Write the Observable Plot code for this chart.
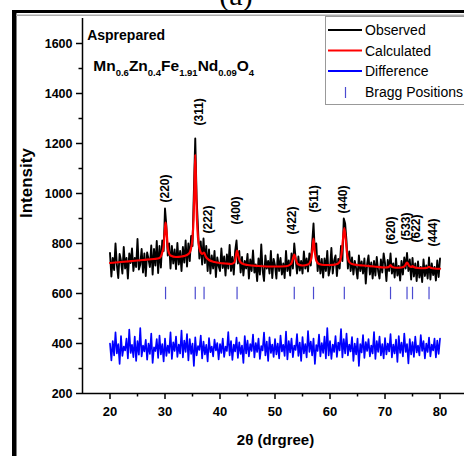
<!DOCTYPE html>
<html><head><meta charset="utf-8">
<script src="https://cdn.jsdelivr.net/npm/d3@7"></script>
<script src="https://cdn.jsdelivr.net/npm/@observablehq/plot@0.6"></script>
<style>
body{margin:0;background:#fff}
#chart{position:relative;width:464px;height:456px;overflow:hidden}
</style>
</head><body><div id="chart"></div>
<script>
// ---- data ----
const scanStart = 20, scanStep = 0.25;
const observed = [
762,668,742,694, 800,714,662,758, 731,680,786,700, 742,660,760,722, 780,690,742,706,
818,696,716,778, 684,760,670,764, 738,706,792,676, 778,712,810,682, 790,704,812,770,
940,870,752,800, 700,790,720,776, 698,802,716,770, 690,786,724,812, 708,800,730,830,
790,1010,1220,980, 860,740,808,716, 820,722,790,690, 776,680,752,700, 770,666,744,710,
690,780,702,748, 672,756,700,794, 690,746,676,770, 812,720,770,684, 746,672,730,700,
758,660,736,690, 772,684,716,650, 740,676,796,692, 650,752,700,730, 680,770,662,738,
712,660,756,690, 742,676,720,662, 770,690,732,672, 760,700,800,740, 680,748,692,730,
680,768,700,740, 688,760,712,800, 880,760,800,690, 750,680,738,664, 740,690,770,672,
700,782,680,732, 752,670,738,700, 790,730,900,880, 810,700,768,690, 744,676,730,700,
660,752,690,728, 680,740,640,718, 752,676,724,660, 730,672,746,690, 660,736,684,760,
720,650,734,690, 760,680,720,664, 740,672,710,652, 730,676,744,700, 762,690,736,656,
742,668,720,650, 728,664,706,646, 736,670,712,660, 744,656,720,674, 706,652,732,666,
740];
const difference = [
400,332,410,352,445,360,398,318,430,350,388,372,420,340,456,362,395,345,428,330,
410,355,462,348,392,368,415,335,400,358,440,322,385,370,418,342,432,356,398,328,
420,350,392,362,445,338,405,370,428,346,396,360,452,344,412,366,438,332,418,358,
400,310,425,352,390,374,432,340,408,356,395,328,422,365,388,348,416,372,402,336,
398,362,420,346,388,370,446,352,410,334,396,368,424,342,405,358,392,322,430,360,
412,348,398,370,436,344,402,366,420,338,390,372,444,352,408,330,425,362,396,346,
418,356,400,340,432,368,395,350,448,336,410,364,420,345,392,374,438,350,404,330,
426,360,398,344,450,366,408,352,420,318,394,370,436,348,402,362,428,340,462,352,
410,338,396,366,430,346,404,372,458,344,418,360,440,352,396,368,426,330,400,356,
420,310,398,364,434,342,406,370,418,348,392,360,446,338,410,366,428,352,398,340,
422,356,400,368,438,344,396,360,416,326,430,362,404,348,440,366,398,320,418,356,
406,346,428,364,392,352,434,370,410,340,400,366,424,348,396,372,420,344,412,358,
420];
const calcAngles = [20,22,24,26,28,29,29.5,29.75,29.9,30.0,30.1,30.2,30.35,30.5,30.75,31,32,33,34,34.5,
34.75,35,35.2,35.35,35.5,35.65,35.8,36,36.25,36.5,36.75,37.1,37.4,38,39,40,41,42,42.6,42.9,
43.1,43.3,43.6,44,45,47,50,52,52.9,53.2,53.5,53.8,54.1,55,56,56.5,56.8,57.0,57.2,57.5,
58,59,60,61,61.75,62.1,62.35,62.6,62.85,63.1,63.5,64,65,66,68,70,70.7,71.0,71.3,72,
73,73.6,74.0,74.4,74.8,75.0,75.2,76,77,77.7,78.0,78.3,79,80];
const calcValues = [722,726,730,734,738,742,764,790,830,862,884,866,830,784,760,752,746,748,754,764,
782,822,900,1020,1155,1020,900,822,782,764,758,764,748,734,726,722,720,718,724,752,
772,752,730,720,714,710,708,709,718,735,756,735,718,712,716,732,775,820,775,732,
718,714,714,716,726,760,815,862,815,760,726,718,714,712,708,704,706,714,706,703,
704,710,724,710,706,710,706,702,701,703,707,703,700,699];
const braggPositions = [30.1,35.5,37.1,43.1,53.5,57.0,62.6,71.0,74.0,75.0,78.0];
const braggLow = 575, braggHigh = 625;
const hklLabels = ["(220)","(311)","(222)","(400)","(422)","(511)","(440)","(620)","(533)","(622)","(444)"];
const hklLabelAngle = [30.0,36.2,37.8,43.0,53.2,57.1,62.4,71.1,73.8,75.6,78.7];
const hklLabelBase = [964,1272,840,876,836,924,920,796,812,804,788];
const yTicks = [200,400,600,800,1000,1200,1400,1600];
const yMinor = [300,500,700,900,1100,1300,1500];
const xTicks = [20,30,40,50,60,70,80];
const xMinor = [25,35,45,55,65,75];
const seriesNames = ["Observed","Calculated","Difference","Bragg Positions"];
const seriesColors = ["#000000","#ff0000","#0000ff","#4a4ad0"];
const sampleName = "Asprepared";
const formulaParts = ["Mn","0.6","Zn","0.4","Fe","1.91","Nd","0.09","O","4"];
const xTitle = "2θ (drgree)", yTitle = "Intensity", panelTitle = "(a)";

// ---- tables ----
const obsTable = observed.map((v, i) => ({angle: scanStart + i * scanStep, value: v}));
const diffTable = difference.map((v, i) => ({angle: scanStart + i * scanStep, value: v}));
const calcTable = calcAngles.map((a, i) => ({angle: a, value: calcValues[i]}));
const hklTable = hklLabels.map((t, i) => ({text: t, angle: hklLabelAngle[i], value: hklLabelBase[i]}));

const font = "Arial, 'Liberation Sans', sans-serif";
const plain = d3.format("d");
const plot = Plot.plot({
  width: 464, height: 456,
  marginLeft: 82, marginRight: 0, marginTop: 18, marginBottom: 63,
  style: {fontFamily: font, color: "#000", background: "white", overflow: "visible"},
  x: {domain: [15, 84.45]},
  y: {domain: [200, 1700]},
  marks: [
    Plot.lineY(obsTable, {x: "angle", y: "value", stroke: seriesColors[0], strokeWidth: 1.9}),
    Plot.lineY(diffTable, {x: "angle", y: "value", stroke: seriesColors[2], strokeWidth: 1.7}),
    Plot.line(calcTable, {x: "angle", y: "value", stroke: seriesColors[1], strokeWidth: 2.2, curve: "monotone-x"}),
    Plot.ruleX(braggPositions, {y1: braggLow, y2: braggHigh, stroke: seriesColors[3], strokeWidth: 1.2}),
    Plot.text(hklTable, {x: "angle", y: "value", text: "text", rotate: -90, textAnchor: "start", fontSize: 12, fontWeight: "bold"}),
    Plot.text([sampleName], {x: 15.85, y: 1616, lineAnchor: "bottom", textAnchor: "start", fontSize: 14, fontWeight: "bold"}),
    Plot.ruleX([15], {y1: 200, y2: 1700, strokeWidth: 1.5}),
    Plot.ruleY([200], {strokeWidth: 1.5}),
    Plot.axisY(yTicks, {tickSize: 6, tickPadding: 4, tickFormat: plain, fontSize: 12.5, fontWeight: "bold", strokeWidth: 1.5, label: null}),
    Plot.axisY(yMinor, {tickSize: 3.5, tickFormat: () => "", strokeWidth: 1.5, label: null}),
    Plot.axisX(xTicks, {tickSize: 6, tickPadding: 7, tickFormat: plain, fontSize: 13, fontWeight: "bold", strokeWidth: 1.5, label: null}),
    Plot.axisX(xMinor, {tickSize: 3.5, tickFormat: () => "", strokeWidth: 1.5, label: null}),
    Plot.text([yTitle], {frameAnchor: "left", rotate: -90, dx: -55.5, dy: 12, fontSize: 17, fontWeight: "bold"}),
    Plot.text([xTitle], {frameAnchor: "bottom", dx: 2, dy: 51, fontSize: 15, fontWeight: "bold"})
  ]
});
document.getElementById("chart").appendChild(plot);

const X = plot.scale("x"), Y = plot.scale("y");
const svg = d3.select(plot);

// formula with subscripts
const ft = svg.append("text").attr("x", X.apply(17.05)).attr("y", Y.apply(1488))
  .attr("text-anchor", "start")
  .attr("font-family", font).attr("font-weight", "bold").attr("fill", "#000");
formulaParts.forEach((p, i) => {
  const sub = i % 2 === 1;
  ft.append("tspan").text(p)
    .attr("font-size", sub ? 9.5 : 15.5)
    .attr("dy", sub ? 5 : (i === 0 ? 0 : -5));
});

// outer frame
svg.append("rect").attr("x", 12).attr("y", 10).attr("width", 4.5).attr("height", 460).attr("fill", "#000");
svg.append("rect").attr("x", 12).attr("y", 10).attr("width", 460).attr("height", 3).attr("fill", "#000");
svg.append("line").attr("x1", 16).attr("x2", 470).attr("y1", 15.2).attr("y2", 15.2).attr("stroke", "#aaa").attr("stroke-width", 1.4);

// panel title (cut at top, as in the original figure)
svg.append("text").attr("x", 236).attr("y", 5).attr("text-anchor", "middle")
  .attr("font-family", "'Liberation Serif', 'Times New Roman', serif").attr("font-size", 30).text(panelTitle);

// legend
const lg = svg.append("g");
lg.append("rect").attr("x", 325.5).attr("y", 16.5).attr("width", 150).attr("height", 88)
  .attr("fill", "white").attr("stroke", "#999").attr("stroke-width", 1);
const rowY = [30, 50.5, 71, 92];
seriesNames.forEach((name, i) => {
  if (i < 3) {
    lg.append("line").attr("x1", 328).attr("x2", 362).attr("y1", rowY[i]).attr("y2", rowY[i])
      .attr("stroke", seriesColors[i]).attr("stroke-width", 2);
  } else {
    lg.append("line").attr("x1", 345.5).attr("x2", 345.5).attr("y1", rowY[i] - 5).attr("y2", rowY[i] + 6)
      .attr("stroke", seriesColors[i]).attr("stroke-width", 1.2);
  }
  lg.append("text").attr("x", 365).attr("y", rowY[i]).attr("dy", "0.36em").attr("text-anchor", "start")
    .attr("font-family", font).attr("font-size", 14).attr("fill", "#000").text(name);
});
</script>
</body></html>
